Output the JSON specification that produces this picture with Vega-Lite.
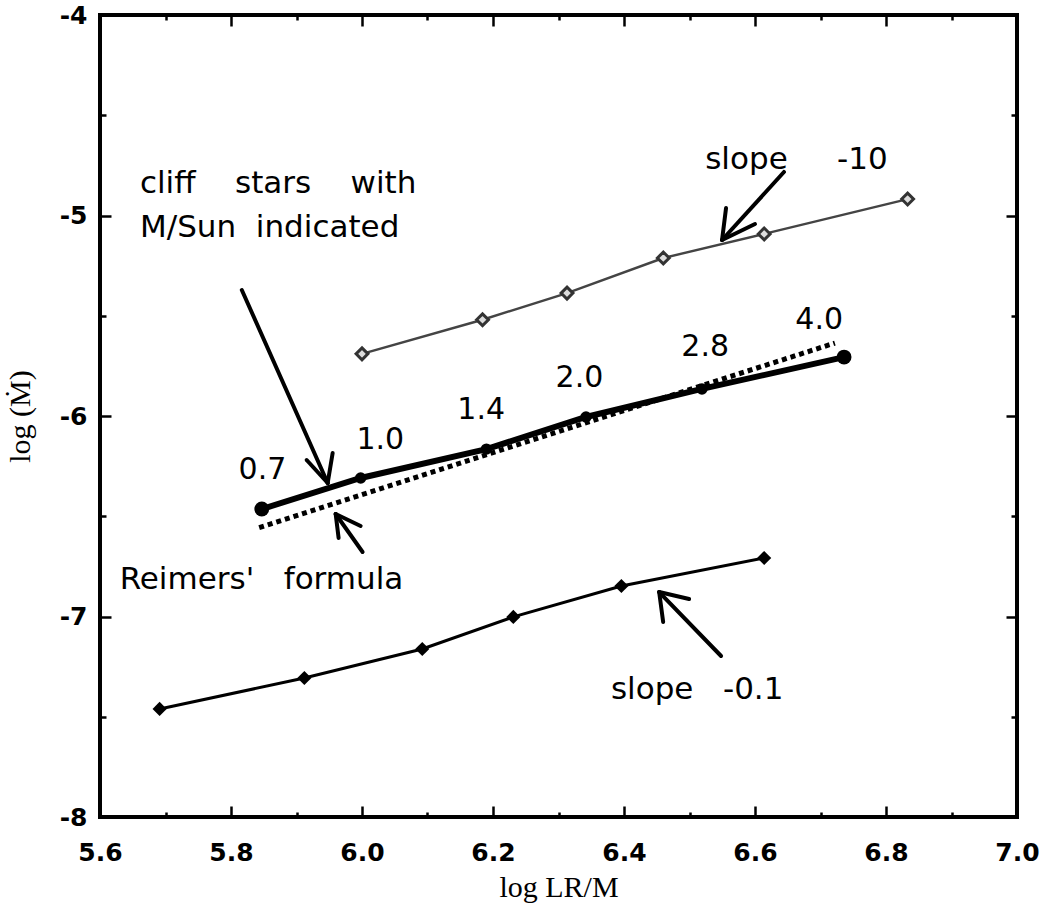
{
  "$schema": "https://vega.github.io/schema/vega-lite/v6.json",
  "width": 917,
  "height": 802,
  "autosize": "none",
  "padding": {"left": 100, "top": 15, "right": 23, "bottom": 92},
  "background": "white",
  "config": {
    "view": {"stroke": "black", "strokeWidth": 4},
    "axis": {"grid": false, "domain": false, "tickColor": "black", "tickWidth": 2.5, "labelColor": "black", "titleColor": "black", "labelFlush": false, "labelOverlap": false}
  },
  "datasets": {
    "top": [
      {"x": 6.0, "y": -5.69}, {"x": 6.184, "y": -5.52}, {"x": 6.313, "y": -5.387},
      {"x": 6.46, "y": -5.212}, {"x": 6.614, "y": -5.092}, {"x": 6.833, "y": -4.918}
    ],
    "cliff": [
      {"x": 5.847, "y": -6.464, "m": "0.7"}, {"x": 5.998, "y": -6.309, "m": "1.0"},
      {"x": 6.19, "y": -6.165, "m": "1.4"}, {"x": 6.342, "y": -6.005, "m": "2.0"},
      {"x": 6.519, "y": -5.865, "m": "2.8"}, {"x": 6.736, "y": -5.706, "m": "4.0"}
    ],
    "reimers": [{"x": 5.843, "y": -6.557}, {"x": 6.722, "y": -5.636}],
    "bottom": [
      {"x": 5.691, "y": -7.461}, {"x": 5.912, "y": -7.307}, {"x": 6.092, "y": -7.162},
      {"x": 6.231, "y": -7.002}, {"x": 6.396, "y": -6.848}, {"x": 6.614, "y": -6.708}
    ],
    "massLabels": [
      {"x": 5.848, "y": -6.269, "t": "0.7"}, {"x": 6.028, "y": -6.12, "t": "1.0"},
      {"x": 6.182, "y": -5.97, "t": "1.4"}, {"x": 6.332, "y": -5.81, "t": "2.0"},
      {"x": 6.524, "y": -5.656, "t": "2.8"}, {"x": 6.698, "y": -5.521, "t": "4.0"}
    ],
    "notes": [
      {"x": 6.524, "y": -4.723, "t": "slope\u00a0\u00a0\u00a0\u00a0\u00a0-10"},
      {"x": 5.661, "y": -4.843, "t": "cliff\u00a0\u00a0\u00a0\u00a0stars\u00a0\u00a0\u00a0\u00a0with"},
      {"x": 5.661, "y": -5.062, "t": "M/Sun\u00a0\u00a0indicated"},
      {"x": 5.63, "y": -6.818, "t": "Reimers'\u00a0\u00a0\u00a0formula"},
      {"x": 6.38, "y": -7.367, "t": "slope\u00a0\u00a0\u00a0-0.1"}
    ],
    "arrows": [
      {"x": 6.6442, "y": -4.783, "x2": 6.5497, "y2": -5.1222},
      {"x": 6.5497, "y": -5.1222, "x2": 6.5558, "y2": -4.9626},
      {"x": 6.5497, "y": -5.1222, "x2": 6.6, "y2": -5.0424},
      {"x": 5.8165, "y": -5.3716, "x2": 5.9476, "y2": -6.3342},
      {"x": 5.9476, "y": -6.3342, "x2": 5.9155, "y2": -6.2195},
      {"x": 5.9476, "y": -6.3342, "x2": 5.9552, "y2": -6.1845},
      {"x": 6.0009, "y": -6.6783, "x2": 5.9598, "y2": -6.4888},
      {"x": 5.9598, "y": -6.4888, "x2": 5.9643, "y2": -6.6085},
      {"x": 5.9598, "y": -6.4888, "x2": 5.9979, "y2": -6.5486},
      {"x": 6.5482, "y": -7.197, "x2": 6.4537, "y2": -6.878},
      {"x": 6.4537, "y": -6.878, "x2": 6.4598, "y2": -7.0274},
      {"x": 6.4537, "y": -6.878, "x2": 6.4994, "y2": -6.9127}
    ]
  },
  "layer": [
    {
      "data": {"name": "bottom"},
      "mark": {"type": "line", "color": "black", "strokeWidth": 3},
      "encoding": {
        "x": {"field": "x", "type": "quantitative",
          "scale": {"domain": [5.6, 7.0], "nice": false, "zero": false},
          "axis": {"orient": "bottom",
            "values": [5.6, 5.7, 5.8, 5.9, 6.0, 6.1, 6.2, 6.3, 6.4, 6.5, 6.6, 6.7, 6.8, 6.9, 7.0],
            "tickSize": {"condition": {"test": "round(datum.value*10)%2 != 0", "value": -5}, "value": -11},
            "labelExpr": "round(datum.value*10)%2 != 0 ? '' : format(datum.value, '.1f')",
            "labelFont": "DejaVu Sans", "labelFontWeight": "bold", "labelFontSize": 25, "labelPadding": 34,
            "title": "log LR/M", "titleFont": "Liberation Serif", "titleFontSize": 30, "titleFontWeight": "normal", "titlePadding": 1}},
        "y": {"field": "y", "type": "quantitative",
          "scale": {"domain": [-8, -4], "nice": false, "zero": false},
          "axis": {"orient": "left",
            "values": [-8, -7.5, -7, -6.5, -6, -5.5, -5, -4.5, -4],
            "tickSize": {"condition": {"test": "datum.value % 1 != 0", "value": -6}, "value": -11},
            "labelExpr": "datum.value % 1 != 0 ? '' : '' + datum.value",
            "labelFont": "DejaVu Sans", "labelFontWeight": "bold", "labelFontSize": 25, "labelPadding": 24,
            "title": "log (\u1e40)", "titleFont": "Liberation Serif", "titleFontSize": 30, "titleFontWeight": "normal", "titlePadding": 24}}
      }
    },
    {
      "data": {"name": "bottom"},
      "mark": {"type": "point", "shape": "diamond", "filled": true, "color": "black", "size": 200, "opacity": 1},
      "encoding": {
        "x": {"field": "x", "type": "quantitative",
          "axis": {"orient": "top",
            "values": [5.6, 5.7, 5.8, 5.9, 6.0, 6.1, 6.2, 6.3, 6.4, 6.5, 6.6, 6.7, 6.8, 6.9, 7.0],
            "tickSize": {"condition": {"test": "round(datum.value*10)%2 != 0", "value": -5}, "value": -11},
            "labels": false, "title": null}},
        "y": {"field": "y", "type": "quantitative",
          "axis": {"orient": "right",
            "values": [-8, -7.5, -7, -6.5, -6, -5.5, -5, -4.5, -4],
            "tickSize": {"condition": {"test": "datum.value % 1 != 0", "value": -6}, "value": -11},
            "labels": false, "title": null}}
      }
    },
    {
      "data": {"name": "top"},
      "mark": {"type": "line", "color": "#444444", "strokeWidth": 2.4},
      "encoding": {
        "x": {"field": "x", "type": "quantitative", "axis": null},
        "y": {"field": "y", "type": "quantitative", "axis": null}
      }
    },
    {
      "data": {"name": "top"},
      "mark": {"type": "point", "shape": "diamond", "filled": true, "fill": "#dddddd", "stroke": "#333333", "strokeWidth": 3, "size": 140, "opacity": 1},
      "encoding": {
        "x": {"field": "x", "type": "quantitative", "axis": null},
        "y": {"field": "y", "type": "quantitative", "axis": null}
      }
    },
    {
      "data": {"name": "reimers"},
      "mark": {"type": "line", "color": "black", "strokeWidth": 5, "strokeDash": [5, 4]},
      "encoding": {
        "x": {"field": "x", "type": "quantitative", "axis": null},
        "y": {"field": "y", "type": "quantitative", "axis": null}
      }
    },
    {
      "data": {"name": "cliff"},
      "mark": {"type": "line", "color": "black", "strokeWidth": 6},
      "encoding": {
        "x": {"field": "x", "type": "quantitative", "axis": null},
        "y": {"field": "y", "type": "quantitative", "axis": null}
      }
    },
    {
      "data": {"name": "cliff"},
      "mark": {"type": "circle", "color": "black", "opacity": 1, "size": 130},
      "encoding": {
        "x": {"field": "x", "type": "quantitative", "axis": null},
        "y": {"field": "y", "type": "quantitative", "axis": null}
      }
    },
    {
      "data": {"name": "cliff"},
      "transform": [{"filter": "datum.m == '0.7' || datum.m == '4.0'"}],
      "mark": {"type": "circle", "color": "black", "opacity": 1, "size": 220},
      "encoding": {
        "x": {"field": "x", "type": "quantitative", "axis": null},
        "y": {"field": "y", "type": "quantitative", "axis": null}
      }
    },
    {
      "data": {"name": "arrows"},
      "mark": {"type": "rule", "color": "black", "strokeWidth": 4, "strokeCap": "round"},
      "encoding": {
        "x": {"field": "x", "type": "quantitative", "axis": null},
        "y": {"field": "y", "type": "quantitative", "axis": null},
        "x2": {"field": "x2"},
        "y2": {"field": "y2"}
      }
    },
    {
      "data": {"name": "massLabels"},
      "mark": {"type": "text", "font": "DejaVu Sans", "fontSize": 30, "color": "black", "align": "center", "baseline": "middle"},
      "encoding": {
        "x": {"field": "x", "type": "quantitative", "axis": null},
        "y": {"field": "y", "type": "quantitative", "axis": null},
        "text": {"field": "t"}
      }
    },
    {
      "data": {"name": "notes"},
      "mark": {"type": "text", "font": "DejaVu Sans", "fontSize": 31, "color": "black", "align": "left", "baseline": "middle"},
      "encoding": {
        "x": {"field": "x", "type": "quantitative", "axis": null},
        "y": {"field": "y", "type": "quantitative", "axis": null},
        "text": {"field": "t"}
      }
    }
  ],
  "resolve": {"axis": {"x": "independent", "y": "independent"}}
}
